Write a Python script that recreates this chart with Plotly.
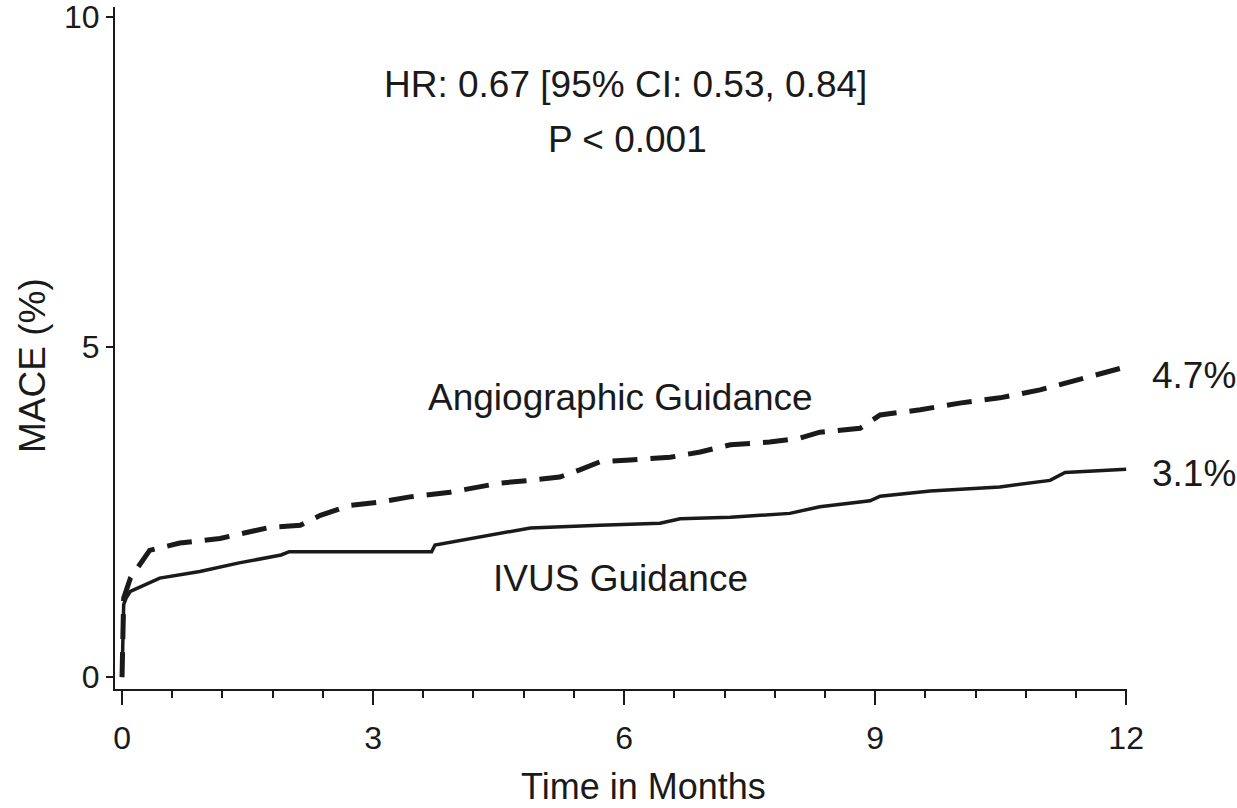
import plotly.graph_objects as go

# Data (months, MACE %)
ivus_t = [0, 0.02, 0.05, 0.1, 0.45, 0.93, 1.4, 1.9, 2.0, 3.7, 3.74, 4.16, 4.88, 5.71,
          6.43, 6.67, 7.27, 7.98, 8.34, 8.94, 9.06, 9.66, 10.49, 11.09, 11.27, 12.0]
ivus_y = [0, 1.1, 1.2, 1.3, 1.5, 1.6, 1.73, 1.85, 1.9, 1.9, 2.0, 2.1, 2.26, 2.3,
          2.33, 2.4, 2.42, 2.48, 2.58, 2.67, 2.74, 2.82, 2.88, 2.98, 3.1, 3.15]

angio_t = [0, 0.02, 0.1, 0.33, 0.69, 1.17, 1.77, 2.13, 2.37, 2.72, 3.08, 3.44, 3.92,
           4.52, 4.88, 5.23, 5.47, 5.71, 6.07, 6.55, 6.91, 7.27, 7.74, 8.1, 8.34, 8.82,
           9.06, 9.54, 10.01, 10.49, 10.97, 11.33, 11.69, 11.93, 12.0]
angio_y = [0, 1.2, 1.5, 1.92, 2.03, 2.1, 2.27, 2.3, 2.45, 2.6, 2.65, 2.73, 2.8,
           2.94, 2.98, 3.03, 3.14, 3.26, 3.29, 3.33, 3.41, 3.52, 3.56, 3.62, 3.71, 3.77,
           3.97, 4.05, 4.15, 4.23, 4.35, 4.47, 4.6, 4.68, 4.7]

x_ticks = [0, 3, 6, 9, 12]
y_ticks = [0, 5, 10]

hr_text = "HR: 0.67 [95% CI: 0.53, 0.84]"
p_text = "P < 0.001"
angio_label = "Angiographic Guidance"
ivus_label = "IVUS Guidance"
angio_end = "4.7%"
ivus_end = "3.1%"
x_title = "Time in Months"
y_title = "MACE (%)"

FONT = "Liberation Sans, Arial, sans-serif"
INK = "#1a1a1a"

fig = go.Figure()
fig.add_trace(go.Scatter(x=angio_t, y=angio_y, mode="lines", line_shape="linear",
                         line=dict(color=INK, width=5, dash="25px,13px"),
                         showlegend=False, hoverinfo="skip"))
fig.add_trace(go.Scatter(x=ivus_t, y=ivus_y, mode="lines", line_shape="linear",
                         line=dict(color=INK, width=3.5),
                         showlegend=False, hoverinfo="skip"))

def ann(text, x, y, ref="data", xanchor="center", size=37, angle=0):
    xr, yr = ("x", "y") if ref == "data" else ("paper", "paper")
    fig.add_annotation(text=text, x=x, y=y, xref=xr, yref=yr, showarrow=False,
                       xanchor=xanchor, yanchor="middle", textangle=angle,
                       font=dict(family=FONT, size=size, color=INK))

ann(hr_text, 6.02, 8.97)
ann(p_text, 6.04, 8.14)
ann(angio_label, 5.96, 4.24)
ann(ivus_label, 5.96, 1.5)
ann(angio_end, 1.0227, 0.4604, ref="paper", xanchor="left")
ann(ivus_end, 1.0227, 0.3167, ref="paper", xanchor="left")
ann(x_title, 0.5227, -0.143, ref="paper", size=36)
ann(y_title, -0.082, 0.4736, ref="paper", angle=-90)

fig.update_layout(
    width=1237, height=808,
    margin=dict(l=115, r=110, t=7, b=119),
    paper_bgcolor="white", plot_bgcolor="white",
    font=dict(family=FONT, color=INK),
    xaxis=dict(range=[-0.084, 12.01], tickvals=x_ticks, ticktext=[str(v) for v in x_ticks],
               showgrid=False, zeroline=False, showline=True, linecolor=INK, linewidth=2,
               ticks="outside", ticklen=14, tickwidth=2, tickcolor=INK, automargin=False,
               tickfont=dict(family=FONT, size=32, color=INK), ticklabelstandoff=6,
               ticklabeloverflow="allow",
               minor=dict(tickmode="linear", tick0=0, dtick=0.6, ticks="outside",
                          ticklen=7, tickwidth=2, tickcolor=INK, showgrid=False)),
    yaxis=dict(range=[-0.18, 10.15], tickvals=y_ticks, ticktext=[str(v) for v in y_ticks],
               showgrid=False, zeroline=False, showline=True, linecolor=INK, linewidth=2,
               ticks="outside", ticklen=7, tickwidth=2, tickcolor=INK, automargin=False,
               ticklabeloverflow="allow",
               tickfont=dict(family=FONT, size=32, color=INK)),
)

fig.write_html("out.html", config={"displayModeBar": False},
               post_script="document.body.style.margin='0';document.body.style.padding='0';")
